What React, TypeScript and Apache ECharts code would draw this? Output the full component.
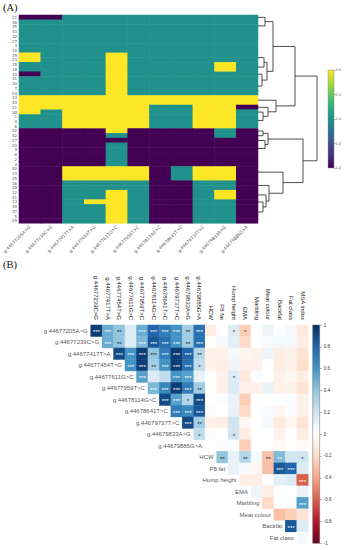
import React, { useEffect, useRef } from 'react';
import * as echarts from 'echarts';

// ---------- Panel A data ----------
const snpNames = [
  'g.44677205A>G', 'g.44677239C>G', 'g.44677417T>A', 'g.44677454T>G', 'g.44677611G>C',
  'g.44677959T>C', 'g.44678114G>C', 'g.44678641T>C', 'g.44679737T>C', 'g.44679833A>G', 'g.44679885G>A',
];
const sampleLabels = [
  '21', '36', '35', '33', '32', '27', '3', '10', '19', '23', '15', '18', '34', '31', '30', '7', '24',
  '43', '44', '11', '38', '1', '0', '6', '22', '42', '17', '20', '9', '8', '2', '4', '40', '14', '25',
  '16', '28', '12', '41', '13', '39', '37', '5', '29',
];
const genotypeRows = [
  [1, 1, 2, 2, 2, 2, 2, 2, 2, 2, 2],
  [2, 2, 2, 2, 2, 2, 2, 2, 2, 2, 2],
  [2, 2, 2, 2, 2, 2, 2, 2, 2, 2, 2],
  [2, 2, 2, 2, 2, 2, 2, 2, 2, 2, 2],
  [2, 2, 2, 2, 2, 2, 2, 2, 2, 2, 2],
  [2, 2, 2, 2, 2, 2, 2, 2, 2, 2, 2],
  [2, 2, 2, 2, 2, 2, 2, 2, 2, 2, 2],
  [2, 2, 2, 2, 2, 2, 2, 2, 2, 2, 2],
  [3, 2, 2, 2, 3, 2, 2, 2, 2, 2, 2],
  [3, 2, 2, 2, 3, 2, 2, 2, 2, 2, 2],
  [2, 2, 2, 2, 3, 2, 2, 2, 2, 3, 2],
  [2, 2, 2, 2, 3, 2, 2, 2, 2, 3, 2],
  [1, 2, 2, 2, 3, 2, 2, 2, 2, 2, 2],
  [2, 2, 2, 2, 3, 2, 2, 2, 2, 2, 2],
  [2, 2, 2, 2, 3, 2, 2, 2, 2, 2, 2],
  [2, 2, 2, 2, 3, 2, 2, 2, 2, 2, 2],
  [2, 2, 2, 2, 3, 2, 2, 2, 2, 2, 2],
  [3, 3, 3, 3, 3, 3, 3, 3, 3, 3, 3],
  [3, 3, 3, 3, 3, 3, 3, 3, 3, 3, 3],
  [3, 3, 3, 3, 3, 3, 2, 2, 3, 3, 1],
  [3, 2, 3, 3, 3, 3, 2, 2, 3, 3, 2],
  [2, 2, 3, 3, 3, 3, 2, 2, 3, 3, 2],
  [2, 2, 3, 3, 3, 3, 2, 2, 3, 3, 2],
  [2, 2, 3, 3, 3, 3, 2, 2, 3, 3, 2],
  [1, 1, 1, 1, 3, 1, 1, 1, 1, 2, 1],
  [1, 1, 1, 1, 2, 1, 1, 1, 1, 2, 1],
  [1, 1, 1, 1, 1, 1, 1, 1, 1, 1, 1],
  [1, 1, 1, 1, 2, 1, 1, 1, 1, 1, 1],
  [1, 1, 1, 1, 2, 1, 1, 1, 1, 1, 1],
  [1, 1, 1, 1, 2, 1, 1, 1, 1, 1, 1],
  [1, 1, 1, 1, 2, 1, 1, 1, 1, 1, 1],
  [1, 1, 1, 1, 2, 1, 1, 1, 1, 1, 1],
  [1, 1, 3, 3, 3, 3, 1, 2, 3, 3, 1],
  [1, 1, 3, 3, 3, 3, 1, 2, 3, 3, 1],
  [1, 1, 3, 3, 3, 3, 1, 2, 3, 3, 1],
  [1, 1, 2, 2, 2, 2, 1, 1, 2, 2, 1],
  [1, 1, 2, 2, 2, 2, 1, 1, 2, 2, 1],
  [1, 1, 2, 2, 3, 2, 1, 1, 2, 3, 1],
  [1, 1, 2, 2, 3, 2, 1, 1, 2, 3, 1],
  [1, 1, 2, 3, 3, 2, 1, 1, 2, 2, 1],
  [1, 1, 2, 2, 3, 2, 1, 1, 2, 2, 1],
  [1, 1, 2, 2, 3, 2, 1, 1, 2, 2, 1],
  [1, 1, 2, 2, 3, 2, 1, 1, 2, 2, 1],
  [1, 1, 2, 2, 3, 2, 1, 1, 2, 2, 1],
];
// dendrogram links: [rowPosA, rowPosB, heightA, heightB, mergeHeight]
const dendroLinks = [
  [0.5, 2.3, 0, 0, 0.7],
  [9.0, 11.0, 0, 0, 0.6],
  [12.5, 15.0, 0, 0, 0.4],
  [10.0, 13.75, 0.6, 0.4, 0.9],
  [1.4, 11.9, 0.7, 0.9, 1.5],
  [20.5, 22.3, 0, 0, 0.5],
  [19.5, 21.4, 0, 0.5, 1.0],
  [18.0, 20.45, 0, 1.0, 1.8],
  [6.65, 19.2, 1.5, 1.8, 3.7],
  [24.5, 25.5, 0, 0, 0.5],
  [26.5, 28.2, 0, 0, 0.7],
  [25.0, 27.35, 0.5, 0.7, 1.0],
  [39.5, 41.6, 0, 0, 0.5],
  [38.0, 40.55, 0, 0.5, 0.8],
  [36.0, 39.3, 0, 0.8, 1.1],
  [33.2, 37.65, 0, 1.1, 2.5],
  [26.2, 35.4, 1.0, 2.5, 4.5],
  [12.9, 30.8, 3.7, 4.5, 5.9],
];
const genotypeScale = [1, 3];

// ---------- Panel B data ----------
const traitNames = ['HCW', 'P8 fat', 'Hump height', 'EMA', 'Marbling', 'Meat colour', 'Backfat', 'Fat class', 'MSA index'];
// upper triangle, row r holds correlations with variables r+1 .. 19
const corrValues = [
  [0.95, 0.5, 0.4, 0.15, 0.5, 0.8, 0.7, 0.6, 0.35, 0.75, -0.1, 0.0, 0.15, -0.25, 0.0, 0.08, 0.02, 0.05, -0.12],
  [0.5, 0.4, 0.15, 0.45, 0.85, 0.75, 0.6, 0.35, 0.75, 0.0, 0.05, 0.12, -0.2, 0.0, 0.03, 0.05, 0.05, -0.1],
  [0.9, 0.6, 0.95, 0.4, 0.7, 0.95, 0.8, 0.3, -0.08, -0.08, 0.05, -0.05, -0.07, 0.08, -0.1, -0.08, -0.15],
  [0.6, 0.95, 0.35, 0.6, 0.95, 0.75, 0.25, -0.08, -0.1, 0.08, -0.08, -0.08, 0.0, -0.1, -0.08, -0.18],
  [0.55, 0.15, 0.25, 0.6, 0.55, 0.1, 0.0, -0.08, 0.15, -0.12, 0.02, 0.0, -0.08, -0.05, -0.1],
  [0.45, 0.65, 0.95, 0.7, 0.35, 0.0, -0.08, 0.15, -0.08, -0.08, 0.1, -0.08, -0.08, -0.15],
  [0.9, 0.55, 0.3, 0.9, 0.0, 0.02, 0.1, -0.25, 0.0, 0.0, 0.0, 0.02, -0.08],
  [0.7, 0.65, 0.85, 0.02, 0.0, 0.1, -0.2, 0.0, 0.03, -0.05, 0.02, -0.08],
  [0.9, 0.35, -0.08, -0.1, 0.2, -0.05, 0.0, 0.05, -0.12, -0.05, -0.15],
  [0.25, 0.02, 0.0, 0.2, -0.1, 0.0, 0.0, -0.08, 0.0, -0.1],
  [0.0, 0.02, 0.02, -0.25, 0.0, 0.0, -0.03, 0.0, -0.03],
  [0.4, 0.1, 0.3, 0.05, -0.3, 0.45, 0.2, 0.2],
  [0.1, 0.05, -0.05, -0.3, 0.85, 0.8, 0.15],
  [-0.1, -0.1, 0.0, 0.12, 0.15, -0.6],
  [0.08, -0.1, 0.0, 0.0, 0.1],
  [-0.2, 0.0, 0.02, 0.55],
  [-0.3, -0.25, -0.15],
  [0.85, 0.15],
  [0.05],
];
const corrStars = [
  ['***', '***', '**', '', '***', '***', '***', '***', '**', '***', '', '', '*', '*', '', '', '', '', ''],
  ['***', '**', '', '***', '***', '***', '***', '**', '***', '', '', '', '', '', '', '', '', ''],
  ['***', '***', '***', '***', '***', '***', '***', '**', '', '', '', '', '', '', '', '', ''],
  ['***', '***', '**', '***', '***', '***', '*', '', '', '', '', '', '', '', '', ''],
  ['***', '', '', '***', '***', '', '', '', '*', '', '', '', '', '', ''],
  ['***', '***', '***', '***', '**', '', '', '', '', '', '', '', '', ''],
  ['***', '***', '*', '***', '', '', '', '', '', '', '', '', ''],
  ['***', '***', '***', '', '', '', '', '', '', '', '', ''],
  ['***', '**', '', '', '', '', '', '', '', '', ''],
  ['*', '', '', '*', '', '', '', '', '', ''],
  ['', '', '', '', '', '', '', '', ''],
  ['**', '', '**', '', '**', '**', '', '*'],
  ['', '', '', '', '***', '***', ''],
  ['', '', '', '', '', '***'],
  ['', '', '', '', ''],
  ['', '', '', '***'],
  ['', '', ''],
  ['***', ''],
  [''],
];
const corrScale = [-1, 1];

const viridis = ['#440154', '#472d7b', '#3b528b', '#2c728e', '#21918c', '#28ae80', '#5ec962', '#addc30', '#fde725'];
const rdbu = ['#67001F', '#B2182B', '#D6604D', '#F4A582', '#FDDBC7', '#FFFFFF', '#D1E5F0', '#92C5DE', '#4393C3', '#2166AC', '#053061'];

const gradStops = (cols: string[]) =>
  cols.map((c, i) => ({ offset: 1 - i / (cols.length - 1), color: c })).reverse();

function colorbarItem(cols: string[], stroke: string) {
  return (params: any, api: any) => {
    const top = api.coord([0, api.value(2)]);
    const bot = api.coord([0, api.value(1)]);
    const w = api.size([1, 0])[0];
    return {
      type: 'rect',
      shape: { x: top[0] - w / 2, y: top[1], width: w, height: bot[1] - top[1] },
      style: {
        fill: new echarts.graphic.LinearGradient(0, 0, 0, 1, gradStops(cols)),
        stroke,
        lineWidth: 0.5,
      },
    };
  };
}

export default function App() {
  const ref = useRef<HTMLDivElement>(null);
  useEffect(() => {
    if (!ref.current) return;
    const chart = echarts.init(ref.current, null, { renderer: 'svg' });

    const cellsA: number[][] = [];
    genotypeRows.forEach((row, r) => row.forEach((v, c) => cellsA.push([c, r, v])));

    const vars = [...snpNames, ...traitNames];
    const cellsB: any[] = [];
    corrValues.forEach((row, r) =>
      row.forEach((v, k) => {
        const s = corrStars[r][k] || '';
        cellsB.push({
          value: [r + 1 + k, r, v],
          label: { show: s !== '', formatter: s, color: Math.abs(v) >= 0.45 ? '#ffffff' : '#1a1a1a' },
        });
      })
    );

    const fa = 'DejaVu Sans';
    const fb = 'Liberation Sans';

    chart.setOption({
      animation: false,
      backgroundColor: '#ffffff',
      grid: [
        { left: 19, top: 15, width: 239, height: 208.3 },
        { left: 258, top: 15, width: 60, height: 208.3 },
        { left: 328, top: 70, width: 6, height: 98 },
        { left: 79.25, top: 325, width: 229, height: 218.3 },
        { left: 312.7, top: 325, width: 7, height: 218.3 },
      ],
      xAxis: [
        {
          type: 'category', gridIndex: 0, data: snpNames,
          axisLine: { show: false }, axisTick: { show: false },
          axisLabel: { rotate: 45, fontSize: 4.4, color: '#555', interval: 0, margin: 3, fontFamily: fa },
        },
        { type: 'value', gridIndex: 1, min: 0, max: 6, show: false },
        { type: 'category', gridIndex: 2, data: [''], show: false },
        {
          type: 'category', gridIndex: 3, data: vars, position: 'top',
          axisLine: { show: false }, axisTick: { show: false },
          axisLabel: {
            rotate: 90, fontSize: 6, color: '#222', interval: 0, margin: 5, fontFamily: fb,
            formatter: (v: string, i: number) => (i === 0 ? '' : v),
          },
        },
        { type: 'category', gridIndex: 4, data: [''], show: false },
      ],
      yAxis: [
        {
          type: 'category', gridIndex: 0, data: sampleLabels, inverse: true,
          axisLine: { show: false }, axisTick: { show: false },
          axisLabel: { fontSize: 4, color: '#555', interval: 0, margin: 2, fontFamily: fa },
        },
        { type: 'value', gridIndex: 1, min: 0, max: 44, inverse: true, show: false },
        {
          type: 'value', gridIndex: 2, min: genotypeScale[0], max: genotypeScale[1], interval: 0.5, position: 'right',
          axisLine: { show: false }, splitLine: { show: false },
          axisTick: { show: true, length: 1.5, lineStyle: { color: '#555', width: 0.5 } },
          axisLabel: { fontSize: 3.5, color: '#555', margin: 1.5, fontFamily: fa, formatter: (v: number) => v.toFixed(1) },
        },
        { type: 'category', gridIndex: 3, data: vars.slice(0, 19), inverse: true, show: false },
        {
          type: 'value', gridIndex: 4, min: corrScale[0], max: corrScale[1], interval: 0.2, position: 'right',
          axisLine: { show: false }, splitLine: { show: false },
          axisTick: { show: true, length: 2, lineStyle: { color: '#555', width: 0.5 } },
          axisLabel: {
            fontSize: 4.5, color: '#333', margin: 4, fontFamily: fb,
            formatter: (v: number) => String(Math.round(v * 10) / 10),
          },
        },
      ],
      visualMap: [
        { type: 'continuous', min: genotypeScale[0], max: genotypeScale[1], seriesIndex: 0, show: false, inRange: { color: viridis } },
        { type: 'continuous', min: corrScale[0], max: corrScale[1], seriesIndex: 3, show: false, inRange: { color: rdbu } },
      ],
      series: [
        { type: 'heatmap', xAxisIndex: 0, yAxisIndex: 0, data: cellsA, itemStyle: { borderWidth: 0 } },
        {
          type: 'lines', coordinateSystem: 'cartesian2d', xAxisIndex: 1, yAxisIndex: 1, polyline: true,
          lineStyle: { color: '#222', width: 0.8, opacity: 1 },
          data: dendroLinks.map(([ya, yb, ha, hb, h]) => ({ coords: [[ha, ya], [h, ya], [h, yb], [hb, yb]] })),
        },
        {
          type: 'custom', xAxisIndex: 2, yAxisIndex: 2, encode: { x: 0, y: [1, 2] },
          data: [[0, genotypeScale[0], genotypeScale[1]]],
          renderItem: colorbarItem(viridis, '#888'),
        },
        {
          type: 'heatmap', xAxisIndex: 3, yAxisIndex: 3, data: cellsB,
          label: { fontSize: 6, fontFamily: fb, offset: [0, 1.5] },
        },
        {
          type: 'scatter', xAxisIndex: 3, yAxisIndex: 3, symbol: 'rect', symbolSize: [11.45, 11.49],
          itemStyle: { color: 'rgba(0,0,0,0)' },
          label: { show: true, position: 'insideRight', distance: 3, formatter: '{b}', fontSize: 6, color: '#222', fontFamily: fb },
          data: vars.slice(0, 19).map((n, i) => ({ value: [i, i], name: n })),
        },
        {
          type: 'custom', xAxisIndex: 4, yAxisIndex: 4, encode: { x: 0, y: [1, 2] },
          data: [[0, corrScale[0], corrScale[1]]],
          renderItem: colorbarItem(rdbu, '#666'),
        },
      ],
      graphic: [
        { type: 'text', left: 3, top: 2, style: { text: '(A)', fontSize: 10.5, fontFamily: 'Liberation Serif', fill: '#111' } },
        { type: 'text', left: 3, top: 259, style: { text: '(B)', fontSize: 10.5, fontFamily: 'Liberation Serif', fill: '#111' } },
      ],
    });
    return () => chart.dispose();
  }, []);
  return <div ref={ref} style={{ position: 'fixed', left: 0, top: 0, width: 345, height: 550 }} />;
}
